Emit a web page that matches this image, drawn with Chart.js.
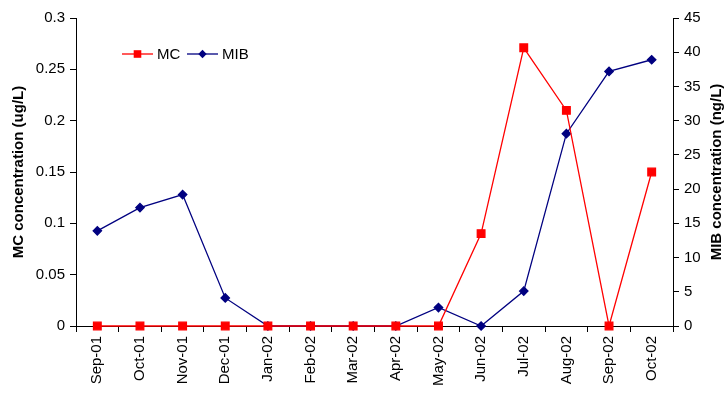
<!DOCTYPE html>
<html>
<head>
<meta charset="utf-8">
<script src="https://cdn.jsdelivr.net/npm/chart.js@4.4.1/dist/chart.umd.min.js"></script>
<style>
  html, body { margin: 0; padding: 0; background: #fff; }
  #wrap { width: 728px; height: 394px; }
</style>
</head>
<body>
<div id="wrap"><canvas id="c" width="728" height="394"></canvas></div>
<script>
// Monthly sampling, Sep 2001 – Oct 2002
const months = ['Sep-01', 'Oct-01', 'Nov-01', 'Dec-01', 'Jan-02', 'Feb-02', 'Mar-02',
                'Apr-02', 'May-02', 'Jun-02', 'Jul-02', 'Aug-02', 'Sep-02', 'Oct-02'];
// Microcystin (ug/L), left axis
const mcValues = [0, 0, 0, 0, 0, 0, 0, 0, 0, 0.09, 0.271, 0.21, 0, 0.15];
// 2-methylisoborneol (ng/L), right axis
const mibValues = [13.9, 17.3, 19.2, 4.1, 0, 0, 0, 0, 2.7, 0, 5.1, 28.1, 37.2, 38.9];

const mcAxis = { min: 0, max: 0.3, step: 0.05 };
const mibAxis = { min: 0, max: 45, step: 5 };

const FONT = 'Arial, "Liberation Sans", sans-serif';
const RED = '#ff0000';
const NAVY = '#000080';

// Axis titles and in-plot legend
const decorations = {
  id: 'decorations',
  afterDraw(chart) {
    const ctx = chart.ctx;
    const area = chart.chartArea;
    const midY = (area.top + area.bottom) / 2;
    ctx.save();
    ctx.fillStyle = '#000';
    ctx.font = 'bold 15px ' + FONT;
    ctx.textAlign = 'center';
    ctx.textBaseline = 'middle';
    // left title
    ctx.save();
    ctx.translate(19, midY);
    ctx.rotate(-Math.PI / 2);
    ctx.fillText('MC concentration (ug/L)', 0, 0);
    ctx.restore();
    // right title
    ctx.save();
    ctx.translate(717, midY);
    ctx.rotate(-Math.PI / 2);
    ctx.fillText('MIB concentration (ng/L)', 0, 0);
    ctx.restore();

    // legend
    const ly = 54;
    const items = [
      { label: 'MC', color: RED, x: 122, shape: 'square' },
      { label: 'MIB', color: NAVY, x: 187, shape: 'diamond' }
    ];
    ctx.font = '15px ' + FONT;
    ctx.textAlign = 'left';
    items.forEach(it => {
      ctx.strokeStyle = it.color;
      ctx.lineWidth = 1.3;
      ctx.beginPath();
      ctx.moveTo(it.x, ly);
      ctx.lineTo(it.x + 31, ly);
      ctx.stroke();
      const mx = it.x + 15.5;
      ctx.fillStyle = it.color;
      ctx.beginPath();
      if (it.shape === 'square') {
        ctx.rect(mx - 3.8, ly - 3.8, 7.6, 7.6);
      } else {
        ctx.moveTo(mx, ly - 4.2);
        ctx.lineTo(mx + 4.2, ly);
        ctx.lineTo(mx, ly + 4.2);
        ctx.lineTo(mx - 4.2, ly);
        ctx.closePath();
      }
      ctx.fill();
      ctx.fillStyle = '#000';
      ctx.fillText(it.label, it.x + 35, ly + 1);
    });
    ctx.restore();
  }
};

const fmt = v => String(Number(v.toFixed(2)));

new Chart(document.getElementById('c'), {
  type: 'line',
  data: {
    labels: months,
    datasets: [
      {
        label: 'MC',
        data: mcValues,
        yAxisID: 'yMC',
        borderColor: RED,
        backgroundColor: RED,
        borderWidth: 1.3,
        pointStyle: 'rect',
        pointRadius: 5.4,
        pointHoverRadius: 5.4,
        tension: 0,
        clip: false
      },
      {
        label: 'MIB',
        data: mibValues,
        yAxisID: 'yMIB',
        borderColor: NAVY,
        backgroundColor: NAVY,
        borderWidth: 1.3,
        pointStyle: 'rectRot',
        pointRadius: 4.2,
        pointHoverRadius: 4.2,
        tension: 0,
        clip: false
      }
    ]
  },
  options: {
    responsive: false,
    animation: false,
    events: [],
    layout: { padding: { top: 18, left: 0, right: 0, bottom: 0 } },
    plugins: { legend: { display: false }, tooltip: { enabled: false } },
    scales: {
      x: {
        offset: true,
        afterFit: s => { s.height = 68; },
        grid: { offset: true, drawOnChartArea: false, drawTicks: true, tickLength: 6, color: '#000' },
        border: { display: true, color: '#000', width: 1 },
        ticks: {
          minRotation: 90, maxRotation: 90, autoSkip: false, padding: 4,
          color: '#000', font: { family: FONT, size: 15 }
        }
      },
      yMC: {
        position: 'left',
        min: mcAxis.min, max: mcAxis.max,
        afterFit: s => { s.width = 76; },
        grid: { drawOnChartArea: false, drawTicks: true, tickLength: 6, color: '#000' },
        border: { display: true, color: '#000', width: 1 },
        ticks: {
          stepSize: mcAxis.step, padding: 5, color: '#000',
          font: { family: FONT, size: 15 }, callback: v => fmt(v)
        }
      },
      yMIB: {
        position: 'right',
        min: mibAxis.min, max: mibAxis.max,
        afterFit: s => { s.width = 55; },
        grid: { drawOnChartArea: false, drawTicks: true, tickLength: 6, color: '#000' },
        border: { display: true, color: '#000', width: 1 },
        ticks: {
          stepSize: mibAxis.step, padding: 5, color: '#000',
          font: { family: FONT, size: 15 }, callback: v => fmt(v)
        }
      }
    }
  },
  plugins: [decorations]
});
</script>
</body>
</html>
